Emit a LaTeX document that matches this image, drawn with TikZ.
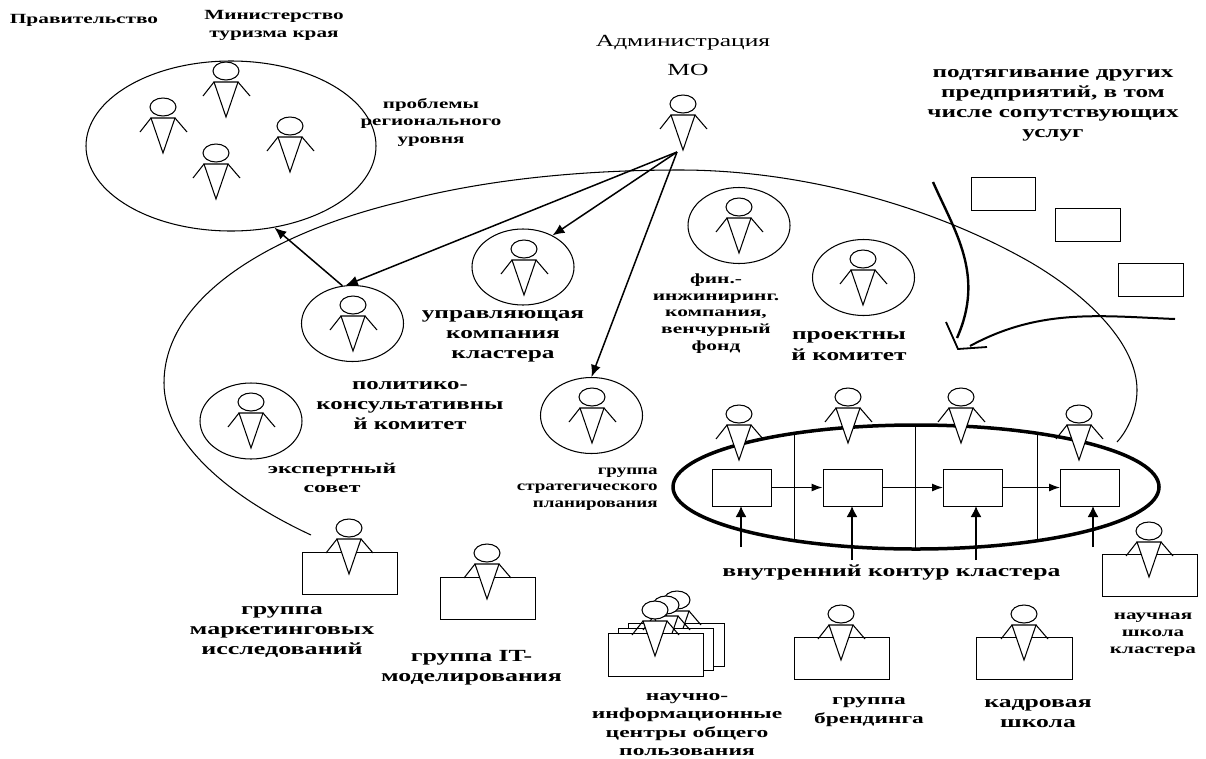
\documentclass[tikz,border=0pt]{standalone}
\usepackage{fontspec}
\setmainfont{Liberation Serif}
\usetikzlibrary{arrows.meta,shapes.geometric}
\tikzset{
  x=1pt,y=-1pt,
  ln/.style={draw=black,line width=1.05pt},
  circ/.style={ellipse,draw=black,line width=1.05pt,minimum width=102pt,minimum height=76pt,inner sep=0pt,fill=white},
  bx/.style={draw=black,line width=1pt,fill=white},
  arr/.style={line width=1.5pt,-{Latex[length=12pt,width=10pt]}},
  tx/.style n args={3}{font=\fontsize{#1}{#3}\selectfont\bfseries,xscale=#2,align=center,inner sep=0pt},
  rtx/.style={font=\fontsize{17}{20}\selectfont,xscale=1.5,inner sep=0pt},
}
\newcommand{\person}[2]{%
  \draw[ln,fill=white] (#1,#2) ellipse [x radius=13,y radius=9];
  \draw[ln] (#1-12,#2+11) -- (#1-23,#2+25) (#1+12,#2+11) -- (#1+24,#2+25);
  \draw[ln,fill=white,line join=miter] (#1-12,#2+11) -- (#1+12,#2+11) -- (#1,#2+46) -- cycle;
}
\newcommand{\desk}[4]{\draw[bx] (#1,#3) rectangle (#2,#4);}
\begin{document}
\begin{tikzpicture}
\useasboundingbox (0,0) rectangle (1206,758);
% government
\node[ellipse,draw,line width=1.05pt,minimum width=290pt,minimum height=170pt,inner sep=0pt] (gov) at (231,146) {};
\person{226}{71}\person{163}{107}\person{290}{126}\person{216}{153}
\node[tx={14}{1.525}{17.5}] (t1) at (84,20) {Правительство};
\node[tx={14}{1.515}{17.5}] (t2) at (274,25.5) {Министерство\\туризма края};
\node[tx={14}{1.5}{17.5}] (t3) at (431,122) {проблемы\\регионального\\уровня};
\node[rtx] (t4a) at (683,43) {Администрация};
\node[rtx] (t4b) at (688,70) {МО};
\node[tx={17}{1.48}{20}] (t5) at (1053,105) {подтягивание других\\предприятий, в том\\числе сопутствующих\\услуг};
% big arc
\coordinate (a0) at (311,535);
\coordinate (a1) at (1117,442);
\draw[ln] (a0) .. controls (225,495) and (164,440) .. (164,383)
  .. controls (164,295) and (275,232) .. (400,202)
  .. controls (490,178) and (590,170) .. (680,170)
  .. controls (800,170) and (930,205) .. (1030,262)
  .. controls (1090,297) and (1137,345) .. (1137,390)
  .. controls (1137,410) and (1128,430) .. (a1);
% admin
\person{683}{104}
\coordinate (adm) at (677,152);
% circles
\node[circ] (polit) at (352.5,323.5) {};
\node[circ] (upr) at (523,267) {};
\node[circ] (fin) at (739,225.5) {};
\node[circ] (proj) at (863.5,277.5) {};
\node[circ] (exp) at (251,421) {};
\node[circ] (strat) at (591.5,415.5) {};
\person{353}{305}\person{524}{249}\person{739}{207}\person{863}{259}\person{251}{402}\person{592}{397}
\draw[arr] (adm) -- (upr.47);
\draw[arr] (adm) -- (polit.100);
\draw[arr] (adm) -- (strat.north);
\draw[arr] (polit.105) -- (gov.-62);
\node[tx={17}{1.49}{20}] (t6) at (503,336) {управляющая\\компания\\кластера};
\node[tx={17}{1.46}{20}] (t7) at (410,406) {политико-\\консультативны\\й комитет};
\node[tx={15}{1.58}{19}] (t8) at (332,478) {экспертный\\совет};
\node[tx={14}{1.36}{16.5},align=right,anchor=east] (t9) at (658,489) {группа\\стратегического\\планирования};
\node[tx={14}{1.53}{16.7}] (t10) at (716,313.5) {фин.-\\инжиниринг.\\компания,\\венчурный\\фонд};
\node[tx={17}{1.49}{21}] (t11) at (849,346) {проектны\\й комитет};
% right boxes
\draw[bx] (971,177) rectangle (1035,210);
\draw[bx] (1055,208) rectangle (1120,241);
\draw[bx] (1118,263) rectangle (1183,296);
\coordinate (c1) at (933,182);\coordinate (c2) at (957,338);
\coordinate (c3) at (1175,319);\coordinate (c4) at (970,346);
\draw[line width=2.4pt] (c1) .. controls (955,232) and (985,275) .. (c2);
\draw[line width=2pt] (c3) .. controls (1100,316) and (1040,308) .. (c4);
\draw[line width=1.8pt] (946,322) -- (958,349) -- (987,347);
% contour
\node[ellipse,draw,line width=3.5pt,minimum width=486pt,minimum height=124pt,inner sep=0pt] (cont) at (916,487) {};
\draw[line width=1pt] (794,433) -- (794,541) (915,425) -- (915,550) (1037,433) -- (1037,541);
\node[bx,minimum width=59pt,minimum height=37pt,inner sep=0pt] (b1) at (741.5,487.5) {};
\node[bx,minimum width=59pt,minimum height=37pt,inner sep=0pt] (b2) at (852.5,487.5) {};
\node[bx,minimum width=59pt,minimum height=37pt,inner sep=0pt] (b3) at (973,487.5) {};
\node[bx,minimum width=59pt,minimum height=37pt,inner sep=0pt] (b4) at (1090,487.5) {};
\tikzset{harr/.style={line width=1.2pt,-{Latex[length=11pt,width=8pt]}},varr/.style={line width=1.6pt,-{Latex[length=11pt,width=11pt]}}}
\draw[harr] (b1) -- (b2);\draw[harr] (b2) -- (b3);\draw[harr] (b3) -- (b4);
\coordinate (u1) at (741,547);\coordinate (u2) at (852,560);\coordinate (u3) at (976,560);\coordinate (u4) at (1093,547);
\draw[varr] (u1) -- (741,506);\draw[varr] (u2) -- (852,506);\draw[varr] (u3) -- (976,506);\draw[varr] (u4) -- (1093,506);
\person{739}{414}\person{848}{397}\person{961}{397}\person{1079}{414}
\node[tx={17}{1.51}{20}] (t12) at (891.5,572) {внутренний контур кластера};
% desks
\desk{302}{397}{552}{594}\person{349}{528}
\desk{440}{535}{577}{619}\person{487}{553}
\desk{628}{724}{623}{666}\person{677}{600}
\desk{618}{713}{628}{670}\person{666}{605}
\desk{608}{703}{633}{676}\person{655}{610}
\desk{794}{889}{637}{679}\person{841}{614}
\desk{976}{1072}{637}{679}\person{1024}{614}
\desk{1102}{1197}{554}{596}\person{1149}{531}
\node[tx={17}{1.53}{19.7}] (t13) at (282,632) {группа\\маркетинговых\\исследований};
\node[tx={17}{1.52}{19.5}] (t14) at (471.5,667.5) {группа IT-\\моделирования};
\node[tx={15}{1.57}{18.3}] (t15) at (687,724.5) {научно-\\информационные\\центры общего\\пользования};
\node[tx={15}{1.56}{19}] (t16) at (869,712.5) {группа\\брендинга};
\node[tx={17}{1.51}{20}] (t17) at (1038,714) {кадровая\\школа};
\node[tx={14}{1.51}{17}] (t18) at (1153,635) {научная\\школа\\кластера};
\end{tikzpicture}
\end{document}
